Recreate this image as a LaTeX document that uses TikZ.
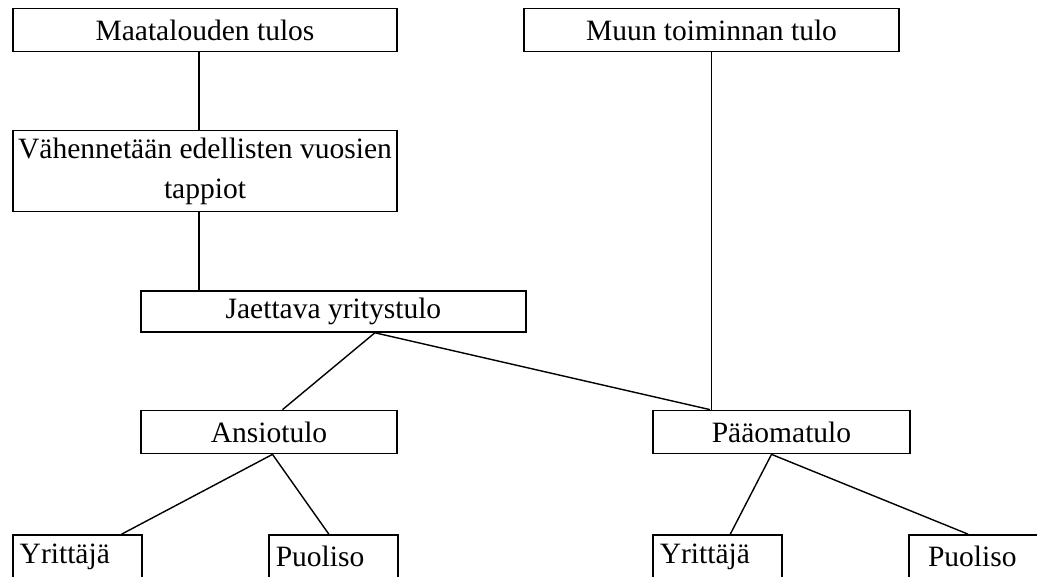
\documentclass[tikz,border=0pt]{standalone}
\usepackage{fontspec}
\setmainfont{Liberation Serif}
\begin{document}
\begin{tikzpicture}[x=0.02cm,y=-0.02cm,
    font=\fontsize{16.8}{22.7}\selectfont,line width=0.8pt,
    box/.style={draw,line width=1pt,rectangle,inner sep=0pt,minimum height=0.86cm},
    leaf/.style={box,align=left,inner xsep=0.14cm,text width=2.30cm}]
  \useasboundingbox (0,0) rectangle (1037,577);
  \clip (0,0) rectangle (1037,577);
  \node[box,minimum width=7.68cm] (maat) at (205,30) {Maatalouden tulos};
  \node[box,minimum width=7.5cm] (muu) at (711.5,30) {Muun toiminnan tulo};
  \node[box,minimum width=7.68cm,minimum height=1.62cm,align=center] (vah) at (205,171)
    {Vähennetään edellisten vuosien\\tappiot};
  \node[box,minimum width=7.7cm,minimum height=0.82cm] (jaet) at (333.4,311.4) {Jaettava yritystulo};
  \node[box,minimum width=5.12cm] (ans) at (269,432) {Ansiotulo};
  \node[box,minimum width=5.14cm] (paa) at (781.5,432) {Pääomatulo};
  \node[leaf] (yritA) at (77.2,556.5) {Yrittäjä};
  \node[leaf] (puoA) at (333.3,556.5) {Puoliso};
  \node[leaf] (yritB) at (717.3,556.5) {Yrittäjä};
  \node[leaf,inner xsep=0.38cm,text width=1.96cm] (puoB) at (977,556.5) {Puoliso};

  \draw ([xshift=-0.12cm]maat.south) -- ([xshift=-0.12cm]vah.north);
  \draw ([xshift=-0.12cm]vah.south) -- ([xshift=-0.12cm]vah.south |- jaet.north);
  \draw (muu.south) -- (muu.south |- paa.north);
  \draw ([xshift=0.83cm]jaet.south) -- ([xshift=0.27cm]ans.north);
  \draw ([xshift=0.83cm]jaet.south) -- ([xshift=-1.43cm]paa.north);
  \draw ([xshift=0.07cm]ans.south) -- ([xshift=0.89cm]yritA.north);
  \draw ([xshift=0.07cm]ans.south) -- ([xshift=-0.09cm]puoA.north);
  \draw ([xshift=-0.2cm]paa.south) -- ([xshift=0.26cm]yritB.north);
  \draw ([xshift=-0.2cm]paa.south) -- ([xshift=-0.18cm]puoB.north);
\end{tikzpicture}
\end{document}
